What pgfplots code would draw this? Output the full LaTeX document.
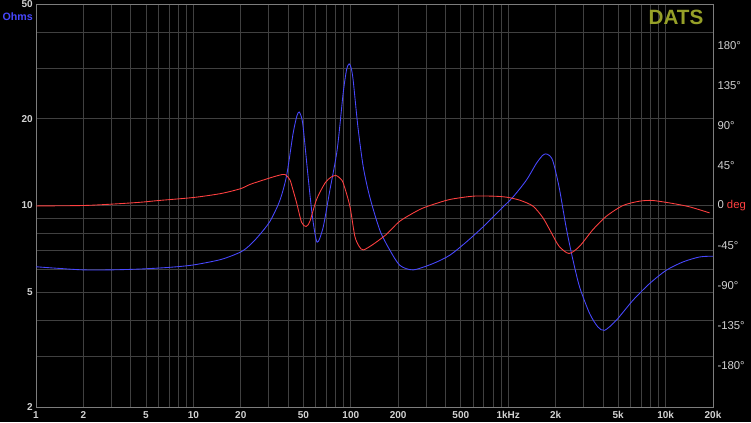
\documentclass[border=0pt]{standalone}
\usepackage{pgfplots}
\pgfplotsset{compat=1.18}
\usepackage{fontspec}
\setmainfont{Liberation Sans}
\usetikzlibrary{calc,backgrounds}
\definecolor{zblue}{RGB}{72,72,255}
\definecolor{pred}{RGB}{255,64,64}
\definecolor{gridc}{RGB}{64,64,64}
\definecolor{framec}{RGB}{125,125,125}
\definecolor{tickc}{RGB}{210,210,210}
\definecolor{dats}{RGB}{150,160,40}

\begin{document}
\begin{tikzpicture}
% impedance, left log axis
\begin{axis}[
    name=zax,
    scale only axis, width=507.75pt, height=302.25pt,
    xmode=log, ymode=log,
    xmin=1, xmax=20000, ymin=2, ymax=50,
    xtick={1,2,5,10,20,50,100,200,500,1000,2000,5000,10000,20000},
    xticklabels={1,2,5,10,20,50,100,200,500,1kHz,2k,5k,10k,20k},
    minor xtick={3,4,6,7,8,9,30,40,60,70,80,90,300,400,600,700,800,900,3000,4000,6000,7000,8000,9000},
    ytick={2,5,10,20,50},
    yticklabels={2,5,10,20,50},
    minor ytick={3,4,6,7,8,9,30,40},
    grid=both, major grid style={gridc, line width=0.6pt}, minor grid style={gridc, line width=0.6pt},
    major tick length=0pt, minor tick length=0pt,
    axis line style={framec, line width=0.7pt},
    ticklabel style={text=tickc, font=\fontsize{7.5}{9}\selectfont\bfseries, inner sep=0pt},
    xticklabel style={yshift=-3pt},
    yticklabel style={xshift=-2.2pt},
    every axis plot/.append style={line width=0.65pt},
]
\addplot[zblue, smooth, tension=0.45] coordinates {
 (1,6.13) (1.4,6.05) (2,5.98) (3,5.98) (4.6,6.02) (7,6.1) (10,6.22) (15,6.5) (20,6.9)
 (22.8,7.28) (26,7.85) (30.6,8.8) (35.4,10.4) (39.1,12.7) (43,17.8) (45.5,20.5) (47,21.1)
 (48.5,20.3) (49.8,18.7) (53.6,12.5) (57.1,9.1) (61.1,7.46) (66.7,8.4) (73.6,11.3)
 (81.9,15.6) (89.4,24.5) (94,29.6) (97.6,31.0) (100.5,30.0) (103.5,27.2) (111,18.7)
 (120,13.6) (132,10.7) (153,8.2) (177,7.0) (205,6.2) (249,5.98) (333,6.29) (425,6.72)
 (543,7.48) (692,8.43) (883,9.63) (1072,10.7) (1305,12.25) (1510,14.0) (1650,14.9)
 (1730,15.1) (1830,14.9) (1927,14.2) (2104,11.6) (2343,8.3) (2580,6.46) (2843,5.21)
 (3290,4.22) (3715,3.79) (4100,3.69) (4864,4.0) (6200,4.69) (7910,5.36) (10090,5.96)
 (12880,6.37) (16440,6.63) (20000,6.67)};
\end{axis}
% phase, right linear axis
\begin{axis}[
    scale only axis, width=507.75pt, height=302.25pt,
    xmode=log, xmin=1, xmax=20000,
    ymin=-226.7, ymax=226.7,
    axis x line=none, axis y line*=right,
    axis line style={framec, line width=0.7pt},
    ytick={-180,-135,-90,-45,0,45,90,135,180},
    yticklabels={-180°,-135°,-90°,-45°,{0 \textcolor{pred}{deg}},45°,90°,135°,180°},
    major tick length=0pt,
    yticklabel style={text=tickc, font=\fontsize{8.5}{10}\selectfont, inner sep=0pt, anchor=west, xshift=3.2pt},
    every axis plot/.append style={line width=0.65pt},
]
\addplot[pred, smooth, tension=0.45] coordinates {
 (1,-0.5) (2,0) (3,1.5) (4.5,3.5) (6,5.6) (10,9) (15,13.5) (20,19) (22.8,23.6) (26,27)
 (30.6,31) (35,34) (38.2,34.9) (41,29) (43,17) (45.2,3.4) (48.7,-19) (52,-23.6) (55,-17.6)
 (60.6,6.8) (68.7,25.5) (75,32) (80.4,33.8) (85,31) (89.4,25.5) (98.6,-0.7) (106,-34.5)
 (113,-46) (120,-50) (138,-43.9) (168,-32.6) (205,-17.6) (274,-4.5) (333,1.1) (425,6.75)
 (598,10.5) (800,10.5) (973,9.4) (1183,6) (1436,-0.7) (1663,-13.9) (1880,-30.7)
 (2104,-45.8) (2432,-54) (2843,-45.8) (3457,-27) (4207,-12) (5360,0) (6840,4.9)
 (8300,5.6) (11120,2.25) (14190,-1.5) (19020,-8.3)};
\end{axis}
\node[anchor=north east, inner sep=0pt, text=zblue, font=\fontsize{8}{9}\selectfont\bfseries]
  at ($(zax.north west)+(-2.2pt,-6.6pt)$) {Ohms};
\node[inner sep=0pt, text=dats, font=\fontsize{15.5}{16}\selectfont\bfseries]
  at ($(zax.north east)+(-27.75pt,-9.75pt)$) {DATS};
\coordinate (A) at ($(zax.south west)+(-27pt,-11.25pt)$);
\coordinate (B) at ($(zax.north east)+(28.5pt,3pt)$);
\begin{scope}[on background layer]
\fill[black] (A) rectangle (B);
\end{scope}
\pgfresetboundingbox
\useasboundingbox (A) rectangle (B);
\end{tikzpicture}
\end{document}
